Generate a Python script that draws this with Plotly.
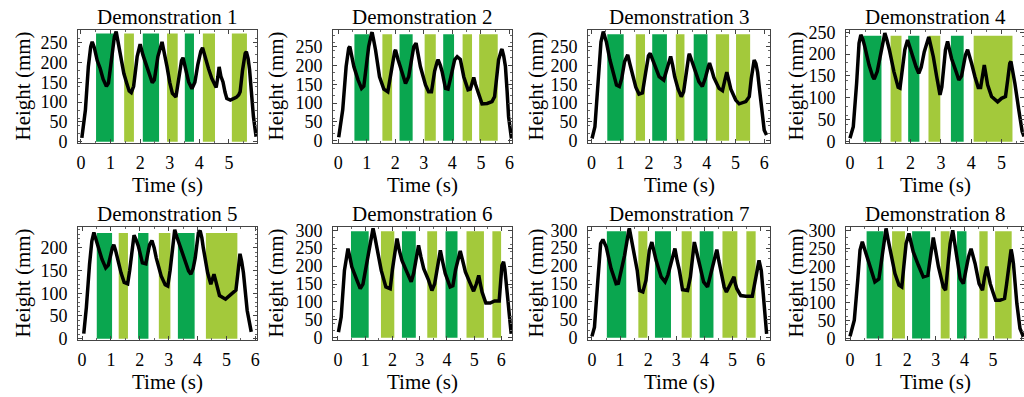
import plotly.graph_objects as go

# ---------------- data ----------------
titles = ["Demonstration 1", "Demonstration 2", "Demonstration 3", "Demonstration 4",
          "Demonstration 5", "Demonstration 6", "Demonstration 7", "Demonstration 8"]
x_title = "Time (s)"
y_title = "Height (mm)"

d1_t = [0.03,0.15,0.25,0.33,0.38,0.45,0.55,0.65,0.75,0.86,0.93,1.05,1.13,1.19,1.26,1.33,1.45,1.55,1.63,1.70,1.78,1.90,2.00,2.10,2.23,2.33,2.41,2.48,2.60,2.74,2.82,2.91,3.00,3.09,3.21,3.30,3.40,3.45,3.53,3.64,3.75,3.85,3.95,4.05,4.11,4.20,4.31,4.42,4.50,4.57,4.63,4.67,4.73,4.80,4.87,4.93,5.05,5.16,5.25,5.33,5.38,5.46,5.55,5.59,5.65,5.70,5.76,5.83,5.92]
d1_h = [10,80,190,240,252,238,205,185,158,140,148,225,265,278,250,214,172,147,128,124,140,215,246,218,189,165,149,156,215,252,225,189,150,122,113,160,205,212,185,151,134,150,195,228,237,210,185,160,149,137,165,189,165,151,125,109,105,109,112,118,126,180,223,227,210,181,120,63,13]

d2_t = [0.02,0.16,0.28,0.37,0.41,0.48,0.55,0.70,0.82,0.90,1.00,1.07,1.17,1.19,1.25,1.31,1.45,1.60,1.74,1.82,1.89,1.98,2.01,2.10,2.18,2.30,2.36,2.47,2.58,2.65,2.73,2.80,2.88,3.06,3.17,3.27,3.38,3.47,3.50,3.58,3.64,3.76,3.85,3.95,4.08,4.17,4.28,4.40,4.55,4.63,4.70,4.75,4.81,4.87,4.98,5.04,5.22,5.39,5.48,5.55,5.62,5.72,5.74,5.80,5.86,5.92,5.97,6.07]
d2_h = [9,82,197,246,250,225,197,161,139,145,200,250,285,288,265,241,170,137,130,160,197,237,241,215,197,170,152,170,225,250,259,230,197,148,130,130,185,210,215,200,184,139,137,170,215,223,216,170,135,137,160,168,150,135,108,98,99,104,117,165,215,241,243,225,197,130,64,6]

d3_t = [0.02,0.12,0.23,0.33,0.41,0.47,0.52,0.64,0.76,0.87,0.97,1.05,1.15,1.22,1.26,1.33,1.40,1.54,1.65,1.77,1.88,1.98,2.04,2.12,2.21,2.35,2.51,2.62,2.74,2.75,2.82,2.89,3.01,3.12,3.20,3.30,3.38,3.40,3.47,3.55,3.73,3.85,3.95,4.06,4.10,4.17,4.25,4.43,4.55,4.63,4.70,4.77,4.84,5.01,5.13,5.36,5.48,5.55,5.62,5.65,5.71,5.77,5.83,5.89,6.00,6.08]
d3_h = [6,37,155,262,290,275,262,215,182,148,144,165,210,226,228,205,182,142,124,127,180,226,232,215,197,170,161,190,219,224,200,170,137,117,130,190,226,231,215,197,157,144,165,197,206,190,168,139,133,160,182,160,137,108,98,104,117,165,208,214,205,182,140,93,28,15]

d4_t = [0.00,0.11,0.22,0.30,0.36,0.42,0.49,0.63,0.75,0.80,0.90,0.99,1.10,1.15,1.22,1.30,1.45,1.59,1.65,1.73,1.81,1.90,1.96,2.03,2.18,2.27,2.35,2.45,2.53,2.60,2.67,2.75,2.86,2.97,3.03,3.15,3.22,3.28,3.35,3.52,3.59,3.68,3.81,3.88,3.95,4.01,4.12,4.23,4.31,4.37,4.43,4.48,4.54,4.67,4.87,5.00,5.13,5.20,5.27,5.31,5.37,5.44,5.57,5.68,5.74]
d4_h = [8,34,133,225,244,235,217,175,149,143,160,194,240,248,232,210,160,124,122,165,210,232,218,202,171,156,170,205,225,239,218,194,149,107,125,210,229,212,190,156,141,150,198,210,195,179,149,124,124,150,175,155,130,103,91,99,103,140,179,183,160,133,72,23,12]

d5_t = [0.06,0.15,0.26,0.34,0.41,0.47,0.54,0.69,0.82,0.91,1.05,1.10,1.16,1.22,1.35,1.46,1.58,1.65,1.72,1.80,1.87,1.95,2.09,2.21,2.30,2.34,2.42,2.50,2.57,2.74,2.88,2.97,3.05,3.13,3.21,3.28,3.36,3.52,3.69,3.77,3.85,3.92,4.03,4.09,4.15,4.20,4.35,4.46,4.52,4.57,4.62,4.68,4.76,4.97,5.10,5.33,5.39,5.44,5.47,5.53,5.59,5.72,5.86]
d5_h = [11,69,164,215,234,222,207,175,156,162,200,207,195,178,145,124,121,150,193,228,218,204,167,165,195,207,216,200,178,138,119,116,150,200,240,225,211,178,149,142,155,178,233,238,222,200,145,120,132,142,130,116,95,87,95,107,140,175,187,170,145,62,15]

d6_t = [0.02,0.12,0.24,0.33,0.37,0.44,0.51,0.70,0.82,0.92,1.02,1.13,1.25,1.29,1.36,1.43,1.59,1.76,1.92,2.00,2.08,2.17,2.25,2.35,2.53,2.69,2.78,2.90,2.96,3.05,3.15,3.33,3.45,3.55,3.65,3.72,3.76,3.85,3.94,4.12,4.22,4.32,4.43,4.49,4.58,4.68,4.86,4.98,5.08,5.17,5.23,5.29,5.43,5.59,5.75,5.92,6.02,6.08,6.13,6.17,6.27,6.36]
d6_h = [16,58,188,244,249,225,198,160,137,150,195,244,300,305,280,254,188,142,137,190,240,277,245,216,184,156,180,235,258,225,193,160,132,150,200,230,244,210,179,142,145,190,230,242,215,184,151,130,150,174,150,128,97,97,103,103,202,212,190,160,67,11]

d7_t = [0.00,0.09,0.21,0.31,0.39,0.45,0.51,0.68,0.86,0.94,1.05,1.16,1.31,1.33,1.39,1.45,1.61,1.69,1.81,1.92,2.04,2.13,2.20,2.28,2.46,2.60,2.70,2.87,2.95,3.03,3.11,3.22,3.40,3.50,3.61,3.64,3.72,3.81,3.97,4.11,4.22,4.34,4.44,4.51,4.58,4.70,4.78,4.92,5.05,5.10,5.15,5.29,5.47,5.70,5.78,5.86,5.94,6.02,6.12,6.21]
d7_h = [4,30,160,263,274,265,253,193,151,152,190,230,300,305,280,253,188,132,128,160,244,267,240,216,170,156,175,226,249,215,188,134,132,170,249,267,240,212,156,142,180,221,246,215,188,142,128,150,170,150,137,118,116,116,150,188,216,188,95,11]

d8_t = [0.00,0.15,0.27,0.35,0.43,0.50,0.58,0.76,0.87,1.01,1.10,1.17,1.26,1.33,1.40,1.57,1.71,1.81,1.88,1.96,2.06,2.13,2.21,2.39,2.56,2.72,2.80,2.86,2.91,3.00,3.09,3.26,3.34,3.42,3.50,3.59,3.66,3.73,3.85,3.96,4.05,4.14,4.23,4.30,4.37,4.51,4.63,4.70,4.78,4.84,4.90,5.01,5.09,5.24,5.40,5.47,5.54,5.63,5.67,5.71,5.83,5.94,6.06]
d8_h = [6,51,162,245,268,250,226,180,157,165,220,263,305,275,245,180,148,143,200,263,291,265,240,203,171,175,215,254,280,240,199,143,134,200,263,300,260,226,166,152,190,226,249,230,208,152,134,170,199,175,152,125,106,106,111,150,199,247,230,208,97,28,5]

# phase bars (start s, end s, kind: "d" = dark green, "l" = light green)
d1_bar_start = [0.51, 1.46, 2.09, 2.91, 3.51, 4.12, 5.10]
d1_bar_end   = [1.11, 1.79, 2.64, 3.27, 3.82, 4.53, 5.61]
d1_bar_kind  = ["d", "l", "d", "l", "d", "l", "l"]
d2_bar_start = [0.57, 1.55, 2.15, 3.03, 3.68, 4.36, 4.94]
d2_bar_end   = [1.09, 1.89, 2.61, 3.42, 4.06, 4.69, 5.59]
d2_bar_kind  = ["d", "l", "d", "l", "d", "l", "l"]
d3_bar_start = [0.55, 1.54, 2.11, 2.93, 3.55, 4.32, 5.02]
d3_bar_end   = [1.12, 1.86, 2.62, 3.23, 4.03, 4.78, 5.51]
d3_bar_kind  = ["d", "l", "d", "l", "d", "l", "l"]
d4_bar_start = [0.44, 1.34, 1.92, 2.59, 3.33, 4.08]
d4_bar_end   = [1.04, 1.70, 2.29, 2.98, 3.75, 5.36]
d4_bar_kind  = ["d", "l", "d", "l", "d", "l"]
d5_bar_start = [0.51, 1.27, 1.94, 2.66, 3.32, 4.29]
d5_bar_end   = [1.04, 1.59, 2.30, 3.06, 3.90, 5.38]
d5_bar_kind  = ["d", "l", "d", "l", "d", "l"]
d6_bar_start = [0.48, 1.58, 2.35, 3.28, 3.95, 4.72, 5.67]
d6_bar_end   = [1.13, 2.07, 2.86, 3.64, 4.39, 5.36, 5.99]
d6_bar_kind  = ["d", "l", "d", "l", "d", "l", "l"]
d7_bar_start = [0.53, 1.65, 2.24, 3.19, 3.83, 4.64, 5.49]
d7_bar_end   = [1.22, 1.97, 2.81, 3.55, 4.32, 5.17, 5.82]
d7_bar_kind  = ["d", "l", "d", "l", "d", "l", "l"]
d8_bar_start = [0.58, 1.47, 2.17, 3.17, 3.74, 4.52, 5.07]
d8_bar_end   = [1.17, 1.92, 2.80, 3.48, 4.07, 4.81, 5.65]
d8_bar_kind  = ["d", "l", "d", "l", "d", "l", "l"]

bar_tops = [273, 283, 283, 242, 233, 297, 297, 297]

y_tick_vals = [[0, 50, 100, 150, 200, 250]] * 5 + [[0, 50, 100, 150, 200, 250, 300]] * 3
x_tick_vals = [0, 1, 2, 3, 4, 5, 6]

# ---------------- layout geometry (window pixels) ----------------
W, H = 1024, 397

def px_x(p):
    return p / W

def px_y(p):
    return 1 - p / H

col_px = [(78, 257), (333, 512), (588, 770), (846, 1024)]
row_px = [(30, 143), (227, 340)]
x_ranges = [[-0.10, 5.95], [-0.18, 6.09], [-0.12, 6.20], [-0.13, 5.74],
            [-0.14, 6.06], [-0.18, 6.39], [-0.14, 6.33], [-0.14, 6.08]]
y_ranges = [[-3, 282], [-6, 294], [-6, 294], [-3, 255],
            [-3, 246], [-6, 309], [-6, 309], [-4, 309]]
title_y_px = [17, 214]
xtitle_y_px = [185, 382]
ytitle_x_px = [22, 275, 535, 795]

DARK = "#0aa64f"
LIGHT = "#a3c93b"
FONT = "Liberation Serif"

series = [(d1_t, d1_h), (d2_t, d2_h), (d3_t, d3_h), (d4_t, d4_h),
          (d5_t, d5_h), (d6_t, d6_h), (d7_t, d7_h), (d8_t, d8_h)]
bars = [(d1_bar_start, d1_bar_end, d1_bar_kind), (d2_bar_start, d2_bar_end, d2_bar_kind),
        (d3_bar_start, d3_bar_end, d3_bar_kind), (d4_bar_start, d4_bar_end, d4_bar_kind),
        (d5_bar_start, d5_bar_end, d5_bar_kind), (d6_bar_start, d6_bar_end, d6_bar_kind),
        (d7_bar_start, d7_bar_end, d7_bar_kind), (d8_bar_start, d8_bar_end, d8_bar_kind)]

fig = go.Figure()
layout = dict(width=W, height=H, margin=dict(l=0, r=0, t=0, b=0, autoexpand=False),
              paper_bgcolor="white", plot_bgcolor="white", showlegend=False,
              barmode="overlay", font=dict(family=FONT, color="black", size=18),
              annotations=[])

for i in range(8):
    k = i + 1
    xa = "x" if k == 1 else f"x{k}"
    ya = "y" if k == 1 else f"y{k}"
    r, c = divmod(i, 4)
    (x0p, x1p), (y0p, y1p) = col_px[c], row_px[r]
    s, e, kinds = bars[i]
    fig.add_trace(go.Bar(
        x=[(a + b) / 2 for a, b in zip(s, e)],
        width=[b - a for a, b in zip(s, e)],
        y=[bar_tops[i]] * len(s), base=0,
        marker=dict(color=[DARK if kd == "d" else LIGHT for kd in kinds], line=dict(width=0)),
        xaxis=xa, yaxis=ya, hoverinfo="skip"))
    t, h = series[i]
    fig.add_trace(go.Scatter(x=t, y=h, mode="lines",
                             line=dict(color="black", width=3.5),
                             xaxis=xa, yaxis=ya))
    axis_common = dict(showline=True, linecolor="#444", linewidth=1, mirror="ticks",
                       ticks="inside", ticklen=4, tickcolor="#444", showgrid=False,
                       zeroline=False, automargin=False,
                       tickfont=dict(family=FONT, size=18, color="black"),
                       minor=dict(ticks="inside", ticklen=2, tickcolor="#666"))
    layout[f"xaxis{k}"] = dict(axis_common, domain=[px_x(x0p), min(px_x(x1p), 1.0)],
                               range=x_ranges[i], anchor=ya, tickvals=x_tick_vals,
                               ticklabelstandoff=3)
    layout[f"yaxis{k}"] = dict(axis_common, domain=[px_y(y1p), px_y(y0p)],
                               range=y_ranges[i], anchor=xa, tickvals=y_tick_vals[i],
                               ticklabelstandoff=6)
    cx = px_x((x0p + x1p) / 2)
    cy = px_y((y0p + y1p) / 2)
    ann_font = dict(family=FONT, size=21, color="black")
    layout["annotations"] += [
        dict(text=titles[i], x=cx, y=px_y(title_y_px[r]), xref="paper", yref="paper",
             xanchor="center", yanchor="middle", showarrow=False, font=ann_font),
        dict(text=x_title, x=cx, y=px_y(xtitle_y_px[r]), xref="paper", yref="paper",
             xanchor="center", yanchor="middle", showarrow=False, font=ann_font),
        dict(text=y_title, x=px_x(ytitle_x_px[c]), y=cy, xref="paper", yref="paper",
             xanchor="center", yanchor="middle", textangle=-90, showarrow=False, font=ann_font),
    ]

fig.update_layout(**layout)
fig.write_html("out.html", config={"displayModeBar": False},
               post_script="document.body.style.margin='0';document.body.style.overflow='hidden';")
